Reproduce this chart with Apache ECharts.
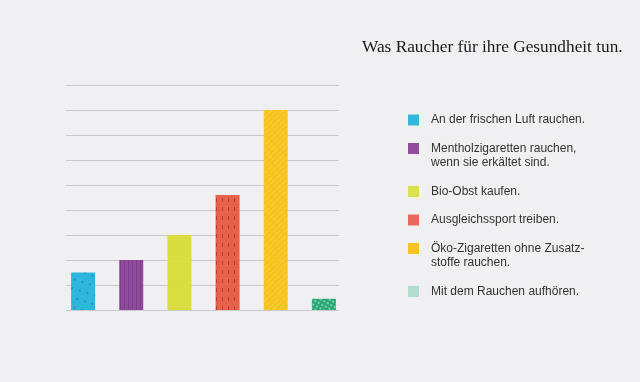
<!DOCTYPE html>
<html>
<head>
<meta charset="utf-8">
<script src="https://cdn.jsdelivr.net/npm/echarts@6/dist/echarts.min.js"></script>
<style>
html,body{margin:0;padding:0;background:#f0f0f2;}
#c{width:640px;height:382px;}
</style>
</head>
<body>
<div id="c"></div>
<script>
const titleText = "Was Raucher für ihre Gesundheit tun.";
const categories = [
  "An der frischen Luft rauchen.",
  "Mentholzigaretten rauchen,\nwenn sie erkältet sind.",
  "Bio-Obst kaufen.",
  "Ausgleichssport treiben.",
  "Öko-Zigaretten ohne Zusatz-\nstoffe rauchen.",
  "Mit dem Rauchen aufhören."
];
const values = [1.5, 2.0, 3.0, 4.6, 8.0, 0.45];
const barColors = ["#2db7dc", "#8d4b9a", "#d9dd3d", "#e8614b", "#f7c31e", "#2ba877"];
const legendColors = ["#35b6dc", "#8f4e99", "#dbe04e", "#e8685a", "#f8c126", "#b3dccf"];
const yMin = 0, yMax = 9, yStep = 1;

const decals = [
  {symbol:'circle', symbolSize:0.5, color:'rgba(0,70,120,0.4)', dashArrayX:[[4,4]], dashArrayY:[4,5], rotation:0.3},
  {symbol:'rect', symbolSize:1, color:'rgba(60,20,80,0.2)', dashArrayX:[1,3], dashArrayY:[10,0]},
  {symbol:'rect', symbolSize:1, color:'rgba(255,255,160,0.08)', dashArrayX:[20,0], dashArrayY:[1,8]},
  {symbol:'rect', symbolSize:1, color:'rgba(140,20,20,0.5)', dashArrayX:[1,5], dashArrayY:[4,5]},
  {symbol:'rect', symbolSize:1, color:'rgba(255,240,140,0.3)', dashArrayX:[1,3], dashArrayY:[6,2], rotation:0.8},
  {symbol:'rect', symbolSize:1, color:'rgba(255,255,255,0.4)', dashArrayX:[2,2], dashArrayY:[2,2], rotation:0.5}
];

const chart = echarts.init(document.getElementById('c'), null, {renderer:'canvas'});

const legendGraphics = [];
let cy = 120;
categories.forEach((lab, i) => {
  const n = lab.split('\n').length;
  legendGraphics.push({
    type:'rect', shape:{x:408, y:cy-5.5, width:11, height:11},
    style:{fill:legendColors[i]}
  });
  legendGraphics.push({
    type:'text', x:431, y:cy-7.5,
    style:{text:lab, fill:'#333333', font:'12px "Liberation Sans", Arial, sans-serif', lineHeight:14.5, textVerticalAlign:'top'}
  });
  cy += (n-1)*14.5 + 28.5;
});
legendGraphics.push({
  type:'text', x:362, y:47,
  style:{text:titleText, fill:'#1a1a1a', font:'17.3px "Liberation Serif", "Times New Roman", serif', textVerticalAlign:'middle'}
});

chart.setOption({
  backgroundColor:'#f0f0f2',
  animation:false,
  grid:[
    {left:66, right:301, top:85, bottom:72},
    {left:59, right:292, top:85, bottom:72}
  ],
  xAxis:[
    {type:'category', gridIndex:0, data:categories, show:false},
    {type:'category', gridIndex:1, data:categories, show:false, boundaryGap:true}
  ],
  yAxis:[
    {type:'value', gridIndex:0, min:yMin, max:yMax, interval:yStep,
     axisLine:{show:false}, axisTick:{show:false}, axisLabel:{show:false},
     splitLine:{show:true, lineStyle:{color:'#c9c9cb', width:1, type:'solid'}}},
    {type:'value', gridIndex:1, min:yMin, max:yMax, interval:yStep, show:false, splitLine:{show:false}}
  ],
  series:[{
    type:'bar', xAxisIndex:1, yAxisIndex:1, barWidth:24,
    data: values.map((v,i)=>({value:v, itemStyle:{color:barColors[i], decal:decals[i]}}))
  }],
  graphic: legendGraphics
});
</script>
</body>
</html>
